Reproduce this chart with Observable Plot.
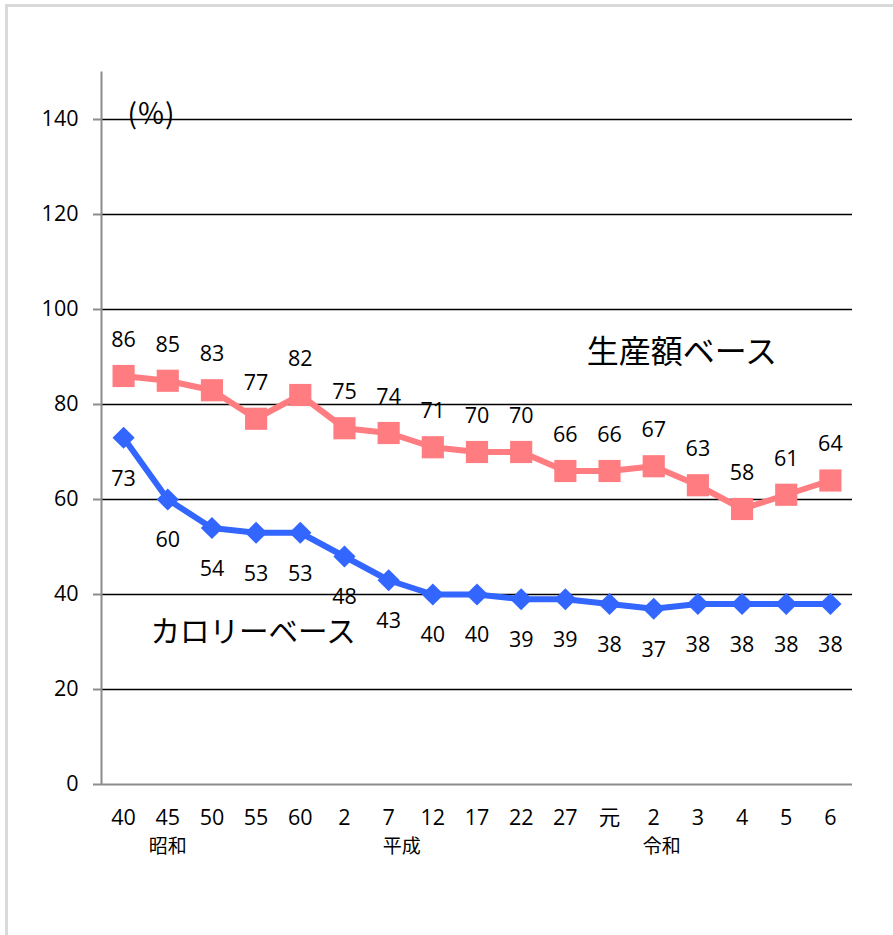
<!DOCTYPE html>
<html>
<head>
<meta charset="utf-8">
<script src="https://cdn.jsdelivr.net/npm/d3@7"></script>
<script src="https://cdn.jsdelivr.net/npm/@observablehq/plot@0.6"></script>
<style>
  html, body { margin: 0; padding: 0; background: #fff; overflow: hidden; }
  #wrap { position: relative; width: 893px; height: 935px; }
  #edge { position: absolute; left: 5px; top: 4px; width: 1000px; height: 1000px;
          border-left: 3px solid #d9d9d9; border-top: 3px solid #d9d9d9; box-sizing: border-box; }
  #chart { position: absolute; left: 0; top: 0; }
</style>
</head>
<body>
<div id="wrap"><div id="edge"></div><div id="chart"></div></div>
<script>
// Year labels along the bottom (Showa / Heisei / Reiwa era years)
const yearLabels = ["40","45","50","55","60","2","7","12","17","22","27","元","2","3","4","5","6"];
// Era names and the year tick each one sits under
const eraNames = ["昭和", "平成", "令和"];
const eraTicks = [1, 6, 12];
// Food self-sufficiency ratio (%), production-value basis
const productionBasis = [86,85,83,77,82,75,74,71,70,70,66,66,67,63,58,61,64];
// Food self-sufficiency ratio (%), calorie basis
const calorieBasis = [73,60,54,53,53,48,43,40,40,39,39,38,37,38,38,38,38];
const yTicks = [0,20,40,60,80,100,120,140];

const prod = productionBasis.map((v, i) => ({i, v}));
const cal = calorieBasis.map((v, i) => ({i, v}));
const years = yearLabels.map((t, i) => ({i, t}));
const eras = eraNames.map((t, k) => ({i: eraTicks[k], t}));

const numFont = "'Open Sans', 'Noto Sans CJK JP', sans-serif";
const jpFont = "'Noto Sans CJK JP', sans-serif";
const PINK = "#ff7c80", BLUE = "#3366ff", AXIS = "#8c8c8c";
const eraDx = [0, 13, 8];
const NUM = 21.5;

const chart = Plot.plot({
  width: 893,
  height: 935,
  marginLeft: 101,
  marginRight: 41,
  marginTop: 71.5,
  marginBottom: 151,
  style: {fontFamily: numFont, background: "transparent"},
  x: {type: "linear", domain: [-0.5, 16.5], axis: null},
  y: {type: "linear", domain: [0, 150], axis: null},
  marks: [
    // horizontal gridlines
    Plot.ruleY(yTicks.filter(d => d > 0), {stroke: "#000", strokeWidth: 1.5}),
    // bottom axis line
    Plot.ruleY([0], {stroke: AXIS, strokeWidth: 2}),
    // left axis line, tick marks and labels
    Plot.ruleX([-0.5], {stroke: AXIS, strokeWidth: 2}),
    Plot.axisY({ticks: yTicks, tickSize: 8, strokeWidth: 2, color: AXIS, label: null, tickFormat: () => ""}),
    Plot.axisY({ticks: yTicks, tickSize: 0, tickPadding: 23, fontSize: NUM, color: "#000", label: null, tickFormat: d => String(d)}),
    // unit label
    Plot.text(["(％)"], {frameAnchor: "top-left", dx: 26, dy: 32.5, textAnchor: "start", text: d => d, fontSize: 28, fontFamily: jpFont, fill: "#000"}),
    // production-value basis series
    Plot.line(prod, {x: "i", y: "v", stroke: PINK, strokeWidth: 6, strokeLinejoin: "round"}),
    Plot.dot(prod, {x: "i", y: "v", symbol: "square", r: 12.5, fill: PINK, stroke: null}),
    Plot.text(prod, {x: "i", y: "v", text: d => String(d.v), dy: -36, fontSize: NUM, fill: "#000"}),
    // calorie basis series
    Plot.line(cal, {x: "i", y: "v", stroke: BLUE, strokeWidth: 6, strokeLinejoin: "round"}),
    Plot.dot(cal, {x: "i", y: "v", symbol: "diamond2", r: 10, fill: BLUE, stroke: null}),
    Plot.text(cal, {x: "i", y: "v", text: d => String(d.v), dy: 41, fontSize: NUM, fill: "#000"}),
    // series names
    Plot.text(["生産額ベース"], {x: 13, y: 91, dx: -16, text: d => d, fontSize: 32, fontFamily: jpFont, fill: "#000"}),
    Plot.text(["カロリーベース"], {x: 3, y: 32, dx: -3, text: d => d, fontSize: 29.5, fontFamily: jpFont, fill: "#000"}),
    // year labels
    Plot.text(years, {x: "i", frameAnchor: "bottom", dy: 40, text: "t", fontSize: NUM, fill: "#000",
      fontFamily: d => d.t === "元" ? jpFont : numFont,
      fontWeight: d => d.t === "元" ? "bold" : "normal"}),
    // era labels
    ...eras.map((e, k) => Plot.text([e], {x: "i", frameAnchor: "bottom", dy: 68, dx: eraDx[k], text: "t", fontSize: 19, fontFamily: jpFont, fill: "#000"}))
  ]
});
document.getElementById("chart").appendChild(chart);
</script>
</body>
</html>
